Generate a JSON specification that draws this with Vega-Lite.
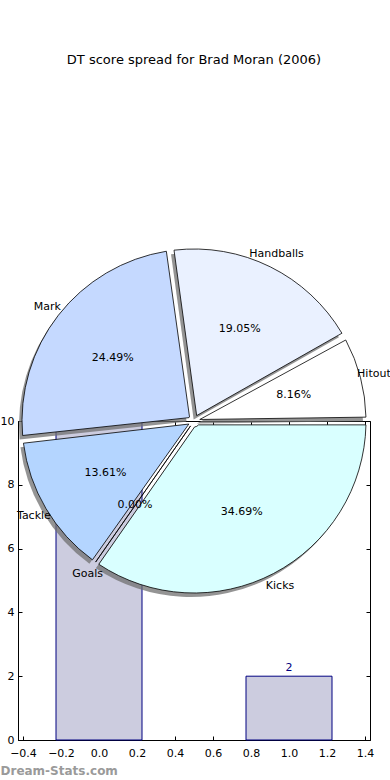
{
  "$schema": "https://vega.github.io/schema/vega-lite/v6.json",
  "width": 352,
  "height": 319,
  "autosize": {"type": "none"},
  "padding": {"left": 18, "top": 421, "right": 20, "bottom": 40},
  "background": "white",
  "title": {"text": "DT score spread for Brad Moran (2006)", "fontSize": 13, "fontWeight": "normal", "font": "DejaVu Sans", "offset": 180, "anchor": "middle", "color": "black"},
  "config": {
    "view": {"stroke": "black", "strokeWidth": 1},
    "font": "DejaVu Sans",
    "axis": {"grid": false, "domainColor": "black", "tickColor": "black", "labelColor": "black", "labelFont": "DejaVu Sans", "labelFontSize": 11, "tickSize": -4, "labelPadding": 8}
  },
  "datasets": {
    "bars": [
      {"pos": 0, "value": 10, "label": "10"},
      {"pos": 1, "value": 2, "label": "2"}
    ],
    "pie": [
      {"stat": "Hitout", "score": 12, "pct": "8.16%", "k": 0},
      {"stat": "Handballs", "score": 28, "pct": "19.05%", "k": 1},
      {"stat": "Mark", "score": 36, "pct": "24.49%", "k": 2},
      {"stat": "Tackle", "score": 20, "pct": "13.61%", "k": 3},
      {"stat": "Goals", "score": 0, "pct": "0.00%", "k": 4},
      {"stat": "Kicks", "score": 51, "pct": "34.69%", "k": 5}
    ]
  },
  "layer": [
    {
      "data": {"name": "bars"},
      "mark": {"type": "bar", "width": 86, "fill": "#ccccdf", "stroke": "#000080", "strokeWidth": 1},
      "encoding": {
        "x": {"field": "pos", "type": "quantitative", "scale": {"domain": [-0.4, 1.4], "nice": false, "zero": false},
              "axis": {"orient": "bottom", "values": [-0.4, -0.2, 0, 0.2, 0.4, 0.6, 0.8, 1.0, 1.2, 1.4], "format": ".1f", "labelPadding": 11,
                       "title": "Dream-Stats.com", "titleColor": "#9a9a9a", "titleFontWeight": "bold", "titleFontSize": 12,
                       "titleAlign": "left", "titleAnchor": "start", "titleX": -18, "titleY": 30, "titleBaseline": "middle", "labelFlush": false}},
        "y": {"field": "value", "type": "quantitative", "scale": {"domain": [0, 10], "nice": false},
              "axis": {"orient": "left", "values": [0, 2, 4, 6, 8, 10], "title": null}}
      }
    },
    {
      "data": {"name": "bars"},
      "mark": {"type": "text", "color": "#000080", "dy": -8, "fontSize": 11},
      "encoding": {
        "x": {"field": "pos", "type": "quantitative", "axis": {"orient": "top", "values": [-0.4, -0.2, 0, 0.2, 0.4, 0.6, 0.8, 1.0, 1.2, 1.4], "labels": false, "title": null, "domain": false}},
        "y": {"field": "value", "type": "quantitative", "axis": {"orient": "right", "values": [0, 2, 4, 6, 8, 10], "labels": false, "title": null, "domain": false}},
        "text": {"field": "label"}
      }
    },
    {
      "data": {"name": "pie"},
      "mark": {"type": "arc", "outerRadius": 172, "innerRadius": 6, "padAngle": 0.045, "fill": "#707070", "opacity": 0.75, "xOffset": -3, "yOffset": 4},
      "encoding": {
        "theta": {"field": "score", "type": "quantitative", "stack": true, "scale": {"range": [1.5708, -4.7124]}},
        "order": {"field": "k", "type": "quantitative"},
        "x": {"datum": 0.5, "type": "quantitative", "axis": null},
        "y": {"datum": 10, "type": "quantitative", "axis": null}
      }
    },
    {
      "data": {"name": "pie"},
      "mark": {"type": "arc", "outerRadius": 172, "innerRadius": 6, "padAngle": 0.045, "stroke": "black", "strokeWidth": 0.8},
      "encoding": {
        "theta": {"field": "score", "type": "quantitative", "stack": true},
        "order": {"field": "k", "type": "quantitative"},
        "color": {"field": "stat", "type": "nominal", "legend": null,
                  "scale": {"domain": ["Hitout", "Handballs", "Mark", "Tackle", "Goals", "Kicks"],
                            "range": ["#ffffff", "#eaf1ff", "#c5d9ff", "#b4d5ff", "#cfe8ff", "#d9ffff"]}},
        "x": {"datum": 0.5, "type": "quantitative", "axis": null},
        "y": {"datum": 10, "type": "quantitative", "axis": null}
      }
    },
    {
      "data": {"name": "pie"},
      "mark": {"type": "text", "radius": 103, "fontSize": 11, "color": "black"},
      "encoding": {
        "theta": {"field": "score", "type": "quantitative", "stack": true},
        "order": {"field": "k", "type": "quantitative"},
        "text": {"field": "pct"},
        "x": {"datum": 0.5, "type": "quantitative", "axis": null},
        "y": {"datum": 10, "type": "quantitative", "axis": null}
      }
    },
    {
      "data": {"name": "pie"},
      "mark": {"type": "text", "radius": 186, "fontSize": 11, "color": "black"},
      "encoding": {
        "theta": {"field": "score", "type": "quantitative", "stack": true},
        "order": {"field": "k", "type": "quantitative"},
        "text": {"field": "stat"},
        "x": {"datum": 0.5, "type": "quantitative", "axis": null},
        "y": {"datum": 10, "type": "quantitative", "axis": null}
      }
    }
  ],
  "resolve": {"scale": {"x": "shared", "y": "shared"}, "axis": {"x": "independent", "y": "independent"}}
}
